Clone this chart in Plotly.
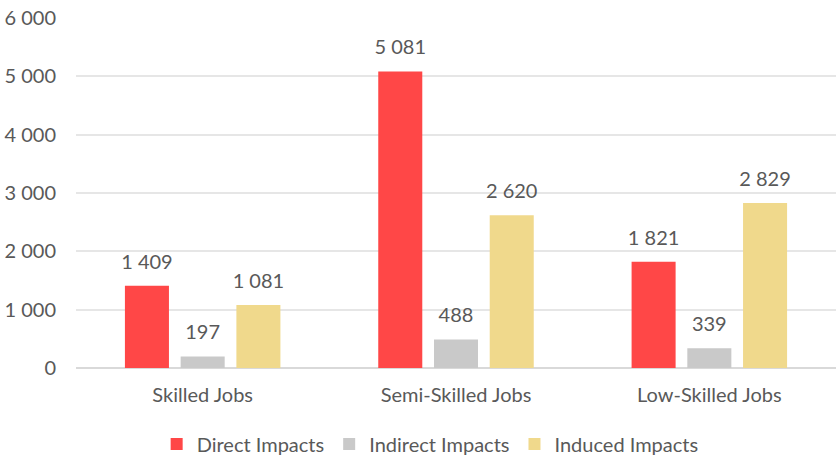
import plotly.graph_objects as go

categories = ["Skilled Jobs", "Semi-Skilled Jobs", "Low-Skilled Jobs"]
direct = [1409, 5081, 1821]
indirect = [197, 488, 339]
induced = [1081, 2620, 2829]
series_names = ["Direct Impacts", "Indirect Impacts", "Induced Impacts"]
colors = ["#FF4747", "#C9C9C9", "#F0D98C"]
y_ticks = [0, 1000, 2000, 3000, 4000, 5000, 6000]

FONT = "Lato, Open Sans, sans-serif"
TXT = "#595959"
FS = 20

fig = go.Figure()
for name, vals, col in zip(series_names, [direct, indirect, induced], colors):
    fig.add_trace(go.Bar(
        x=categories, y=vals, name=name, marker_color=col,
        marker_line_width=0,
    ))
for name, vals in zip(series_names, [direct, indirect, induced]):
    fig.add_trace(go.Scatter(
        x=categories, y=vals, mode="markers+text", orientation="v",
        text=[f"{v:,}".replace(",", " ") for v in vals],
        textposition="top center",
        textfont=dict(family=FONT, size=FS, color=TXT),
        marker=dict(size=18, color="rgba(0,0,0,0)"),
        showlegend=False, hoverinfo="skip", cliponaxis=False,
    ))

fig.update_layout(
    width=836, height=455,
    margin=dict(l=76, r=0, t=18, b=87, autoexpand=False),
    paper_bgcolor="white", plot_bgcolor="white",
    barmode="group", bargap=0.34, bargroupgap=0.21,
    scattermode="group", scattergap=0.34,
    separators=". ",
    font=dict(family=FONT, size=FS, color=TXT),
    legend=dict(orientation="h", x=0.466, xanchor="center", y=-0.217, yanchor="middle",
                font=dict(family=FONT, size=FS, color=TXT), itemwidth=30,
                traceorder="normal", tracegroupgap=0),
    showlegend=True,
)
fig.update_yaxes(range=[0, 6000], tickvals=y_ticks, tickformat=",d", automargin=False,
                 showgrid=True, gridcolor="#E6E6E6", gridwidth=1.5,
                 zeroline=True, zerolinecolor="#D9D9D9", zerolinewidth=1.5,
                 ticks="", ticklen=0, ticklabelstandoff=19,
                 tickfont=dict(family=FONT, size=FS, color=TXT))
fig.update_xaxes(range=[-0.5, 2.5], showline=False, ticks="", ticklabelstandoff=13,
                 automargin=False,
                 tickfont=dict(family=FONT, size=FS, color=TXT))

fig.write_html("out.html", config={"displayModeBar": False},
               post_script="document.body.style.margin='0';")
